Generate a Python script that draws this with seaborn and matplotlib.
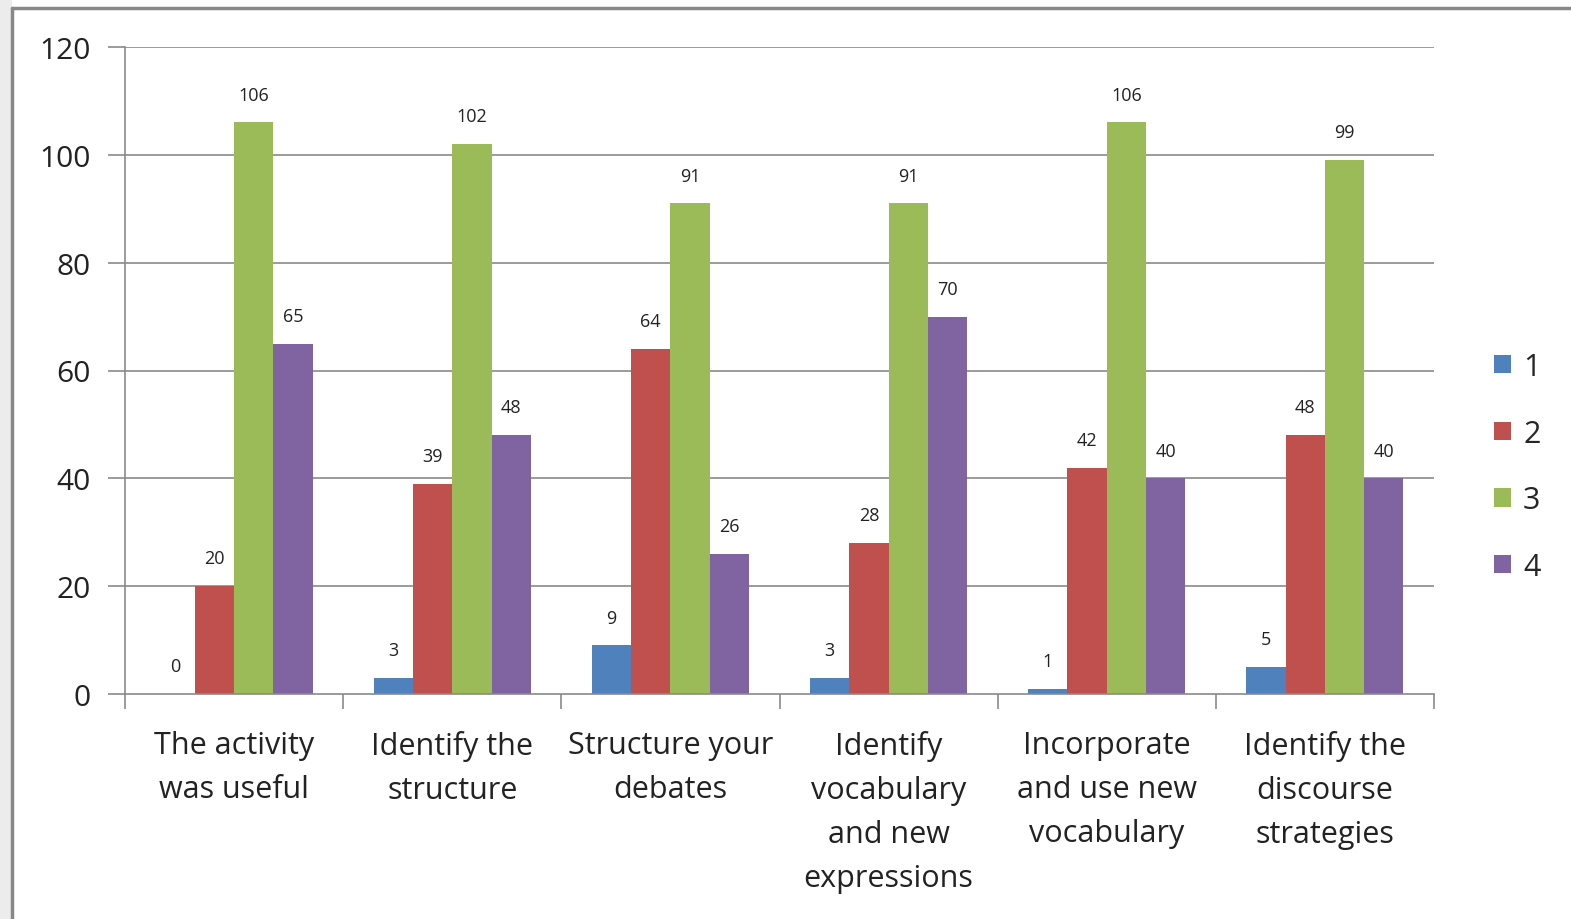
import matplotlib
matplotlib.use("Agg")
import matplotlib.pyplot as plt
import seaborn as sns
import pandas as pd
from matplotlib.patches import Rectangle
from matplotlib.lines import Line2D

categories = ["The activity\nwas useful", "Identify the\nstructure", "Structure your\ndebates",
              "Identify\nvocabulary\nand new\nexpressions", "Incorporate\nand use new\nvocabulary",
              "Identify the\ndiscourse\nstrategies"]
series_names = ["1", "2", "3", "4"]
s1 = [0, 3, 9, 3, 1, 5]
s2 = [20, 39, 64, 28, 42, 48]
s3 = [106, 102, 91, 91, 106, 99]
s4 = [65, 48, 26, 70, 40, 40]
yticks = [0, 20, 40, 60, 80, 100, 120]
colors = ["#4F81BD", "#C0504D", "#9BBB59", "#8064A2"]

rows = []
for name, vals in zip(series_names, [s1, s2, s3, s4]):
    for c, v in zip(categories, vals):
        rows.append({"cat": c, "series": name, "value": v})
df = pd.DataFrame(rows)

sns.set_theme(style="white")
plt.rcParams['font.family'] = ['Open Sans', 'DejaVu Sans']

fig = plt.figure(figsize=(15.71, 9.2), dpi=100)
ax = fig.add_axes([125/1571, 1-695/920, (1434-125)/1571, (695-48)/920])

sns.barplot(data=df, x="cat", y="value", hue="series", palette=colors,
            width=0.72, gap=0, saturation=1, ax=ax, legend=True, linewidth=0)

grid_c = "#8a8a8a"
ax.set_ylim(0, 120)
ax.set_xlim(-0.5, len(categories) - 0.5)
ax.set_yticks(yticks)
ax.set_yticklabels([str(t) for t in yticks], fontsize=21.5, color="#222222")
ax.tick_params(axis="y", length=12, width=1.2, color=grid_c, pad=13, left=True)
ax.set_xticks(range(len(categories)))
ax.set_xticklabels(categories, fontsize=22, color="#222222", linespacing=1.6, va="top")
ax.tick_params(axis="x", which="major", length=0, pad=26)
ax.set_xticks([i - 0.5 for i in range(len(categories) + 1)], minor=True)
ax.tick_params(axis="x", which="minor", length=11, width=1.2, color=grid_c, bottom=True)
ax.set_xlabel("")
ax.set_ylabel("")
for y in yticks[1:]:
    ax.axhline(y, color=grid_c, lw=1.2, zorder=0)
for sp in ["top", "right"]:
    ax.spines[sp].set_visible(False)
ax.spines["left"].set_color(grid_c)
ax.spines["bottom"].set_color(grid_c)
ax.spines["left"].set_linewidth(1.2)
ax.spines["bottom"].set_linewidth(1.2)

for cont in ax.containers:
    for bar in cont:
        h = bar.get_height()
        ax.annotate(f"{int(round(h))}", (bar.get_x() + bar.get_width()/2, h),
                    xytext=(0, 20), textcoords="offset points", ha="center", va="center",
                    fontsize=13, color="#222222")

leg = ax.legend(loc="center left", bbox_to_anchor=(1494/1571, 452/920), bbox_transform=fig.transFigure,
                frameon=False, fontsize=22, handlelength=0.55, handleheight=0.55,
                labelspacing=1.2, handletextpad=0.4, borderpad=0, borderaxespad=0)

# figure frame (screenshot border)
fig.patches.append(Rectangle((0, 0), 11/1571, 1, transform=fig.transFigure, color="#ececec", zorder=-1))
fig.lines.append(Line2D([12/1571, 12/1571], [0, 1-9/920], transform=fig.transFigure, color="#888888", lw=2.5))
fig.lines.append(Line2D([12/1571, 1], [1-9/920, 1-9/920], transform=fig.transFigure, color="#888888", lw=2.5))

fig.savefig("out.png", dpi=100)
